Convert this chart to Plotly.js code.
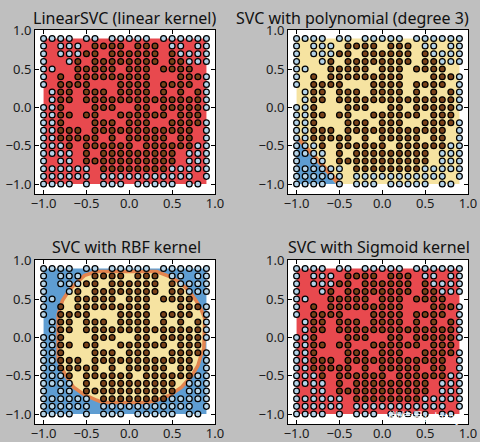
<!DOCTYPE html>
<html><head><meta charset="utf-8">
<script src="https://cdn.plot.ly/plotly-3.0.1.min.js"></script>
<style>html,body{margin:0;padding:0;background:#bfbfbf}</style>
</head><body><div id="chart" style="width:480px;height:442px"></div>
<script>
// ---- data ----
const colValues = [-1.0,-0.9,-0.8,-0.7,-0.6,-0.5,-0.4,-0.3,-0.2,-0.1,0.0,0.1,0.2,0.3,0.4,0.5,0.6,0.7,0.8,0.9];
const rowValues = [0.9,0.8,0.7,0.6,0.5,0.4,0.3,0.2,0.1,0.0,-0.1,-0.2,-0.3,-0.4,-0.5,-0.6,-0.7,-0.8,-0.9,-1.0];
// b = class 0 (light blue), r = class 1 (brown), . = no sample
const pointRows = [
  "bbbb.bb.bbbbb.bbbbbb",
  "b.bbb.rrrr.rrr.bb.bb",
  "b.bbbrr.rrrrrr.rbbbb",
  "b..br.rrrrrrrr.rrbbb",
  "bb..rrrrr.rrr.rrrr..",
  "b.r.rrrrrrrrr...rrrb",
  "b.rrrr...rrrr.rrrr.b",
  ".brr.rrr.rrrr.r.r.rb",
  ".brr.rrrrrrrrrrrrrrb",
  "bbr...rrr..rr.rrrrrb",
  "bbrr.rr..rrrrrr.rrr.",
  "bbr...rrr.rrr..rrrrb",
  "bbrrr.rrrrrrrrrrrr.b",
  "bbrrrrr.r.rrrrr.rr.b",
  "bbbr.rrrrrr.rrrrrrbb",
  "bbbb.r.rrrrrrrrr.bbb",
  "b.bb.rrrrrrrrrrr.bbb",
  "bbbbbb.rrrrrrrrbbbbb",
  "bbbbbb.bbbbbbbbbbb.b",
  "bbbb.b.bbb.bbbbb.bb."
];
const titles = ["LinearSVC (linear kernel)","SVC with polynomial (degree 3)","SVC with RBF kernel","SVC with Sigmoid kernel"];
// extent of the decision-region mesh
const meshX = [-1.0, 0.9];
const meshY = [-1.0, 0.9];
// polynomial kernel: class-0 corner and boundary band
const polyBlueX = [-1.0, -1.0, -0.54];
const polyBlueY = [-1.0, -0.42, -1.0];
const polyBandX = [-1.0, -0.46, -0.54, -1.0];
const polyBandY = [-0.35, -1.0, -1.0, -0.43];
// RBF kernel: class-1 region outline
const rbfX = [-0.38,-0.52,-0.62,-0.71,-0.78,-0.82,-0.83,-0.83,-0.80,-0.74,-0.65,-0.52,-0.38,-0.31,0.21,0.32,0.48,0.61,0.73,0.80,0.84,0.87,0.88,0.84,0.78,0.70,0.60,0.48,0.32,-0.38];
const rbfY = [0.86,0.81,0.71,0.60,0.48,0.35,0.30,-0.30,-0.37,-0.50,-0.65,-0.75,-0.82,-0.85,-0.85,-0.82,-0.75,-0.65,-0.50,-0.37,-0.22,-0.15,0.25,0.36,0.48,0.60,0.71,0.79,0.86,0.86];
const tickVals = [-1.0,-0.5,0.0,0.5,1.0];
const tickText = ["\u22121.0","\u22120.5","0.0","0.5","1.0"];

// ---- styles ----
const RED="#e8494e", YEL="#f6e3a1", BLU="#5e9dd2", ORG="#e3844f";
const PT0="#b5d4e9", PT1="#7a4219";
const FONT="Noto Sans";

const px=[],py=[],pc=[];
pointRows.forEach((row,i)=>{ for(let j=0;j<row.length;j++){ const c=row[j]; if(c==='.')continue; px.push(colValues[j]); py.push(rowValues[i]); pc.push(c==='b'?PT0:PT1);} });

const rectX=[meshX[0],meshX[1],meshX[1],meshX[0],meshX[0]];
const rectY=[meshY[0],meshY[0],meshY[1],meshY[1],meshY[0]];

function area(xs,ys,color,ax,line){
  return {type:'scatter',mode:'lines',x:xs,y:ys,fill:'toself',fillcolor:color,
    line:line||{width:0,color:color},xaxis:'x'+ax,yaxis:'y'+ax,hoverinfo:'skip',showlegend:false};
}
function pts(ax){
  return {type:'scatter',mode:'markers',x:px,y:py,xaxis:'x'+ax,yaxis:'y'+ax,showlegend:false,
    marker:{size:5.8,color:pc,line:{color:'#000',width:1.25}}};
}
const data=[
  area(rectX,rectY,RED,''),
  area(rectX,rectY,YEL,'2'),
  area(polyBandX.concat([polyBandX[0]]),polyBandY.concat([polyBandY[0]]),ORG,'2'),
  area(polyBlueX.concat([polyBlueX[0]]),polyBlueY.concat([polyBlueY[0]]),BLU,'2'),
  area(rectX,rectY,BLU,'3'),
  area(rbfX,rbfY,YEL,'3',{color:ORG,width:3.5}),
  area(rectX,rectY,RED,'4'),
  pts(''),pts('2'),pts('3'),pts('4')
];

const W=480,H=442;
const colsPx=[[35,215],[288,468]];
const rowsPx=[[30,194],[260,424]];
function ax(dom,anchor,range,isX){
  return {domain:dom,anchor:anchor,range:range,showgrid:false,zeroline:false,showline:true,
    linecolor:'#000',linewidth:1,mirror:'ticks',ticks:'inside',ticklen:4,tickcolor:'#000',
    ticklabelstandoff:isX?-3:0,
    tickvals:tickVals,ticktext:tickText,tickfont:{family:FONT,size:13,color:'#1a1a1a'},fixedrange:true};
}
const layout={width:W,height:H,margin:{l:0,r:0,t:0,b:0},paper_bgcolor:'#bfbfbf',plot_bgcolor:'#ffffff',showlegend:false,annotations:[]};
const titleCenters=[[124.5,18.5],[352.5,18.5],[126,247],[378.5,247]];
for(let k=0;k<4;k++){
  const c=k%2, r=Math.floor(k/2);
  const sfx=k===0?'':String(k+1);
  const xd=[colsPx[c][0]/W,colsPx[c][1]/W];
  const yd=[1-rowsPx[r][1]/H,1-rowsPx[r][0]/H];
  layout['xaxis'+sfx]=ax(xd,'y'+sfx,[-1.1,1.0],true);
  layout['yaxis'+sfx]=ax(yd,'x'+sfx,[-1.13,1.01],false);
  layout.annotations.push({text:titles[k],xref:'paper',yref:'paper',x:titleCenters[k][0]/W,y:1-titleCenters[k][1]/H,
    xanchor:'center',yanchor:'middle',showarrow:false,font:{family:FONT,size:16,color:'#111'}});
}
layout.annotations.push({text:"微信号: datayx",xref:'paper',yref:'paper',x:427/W,y:1-416/H,xanchor:'center',yanchor:'middle',
  showarrow:false,font:{family:"Noto Sans CJK SC",size:12,color:'rgba(255,255,255,0.9)'}});
Plotly.newPlot('chart',data,layout,{staticPlot:true,displayModeBar:false});
</script></body></html>
